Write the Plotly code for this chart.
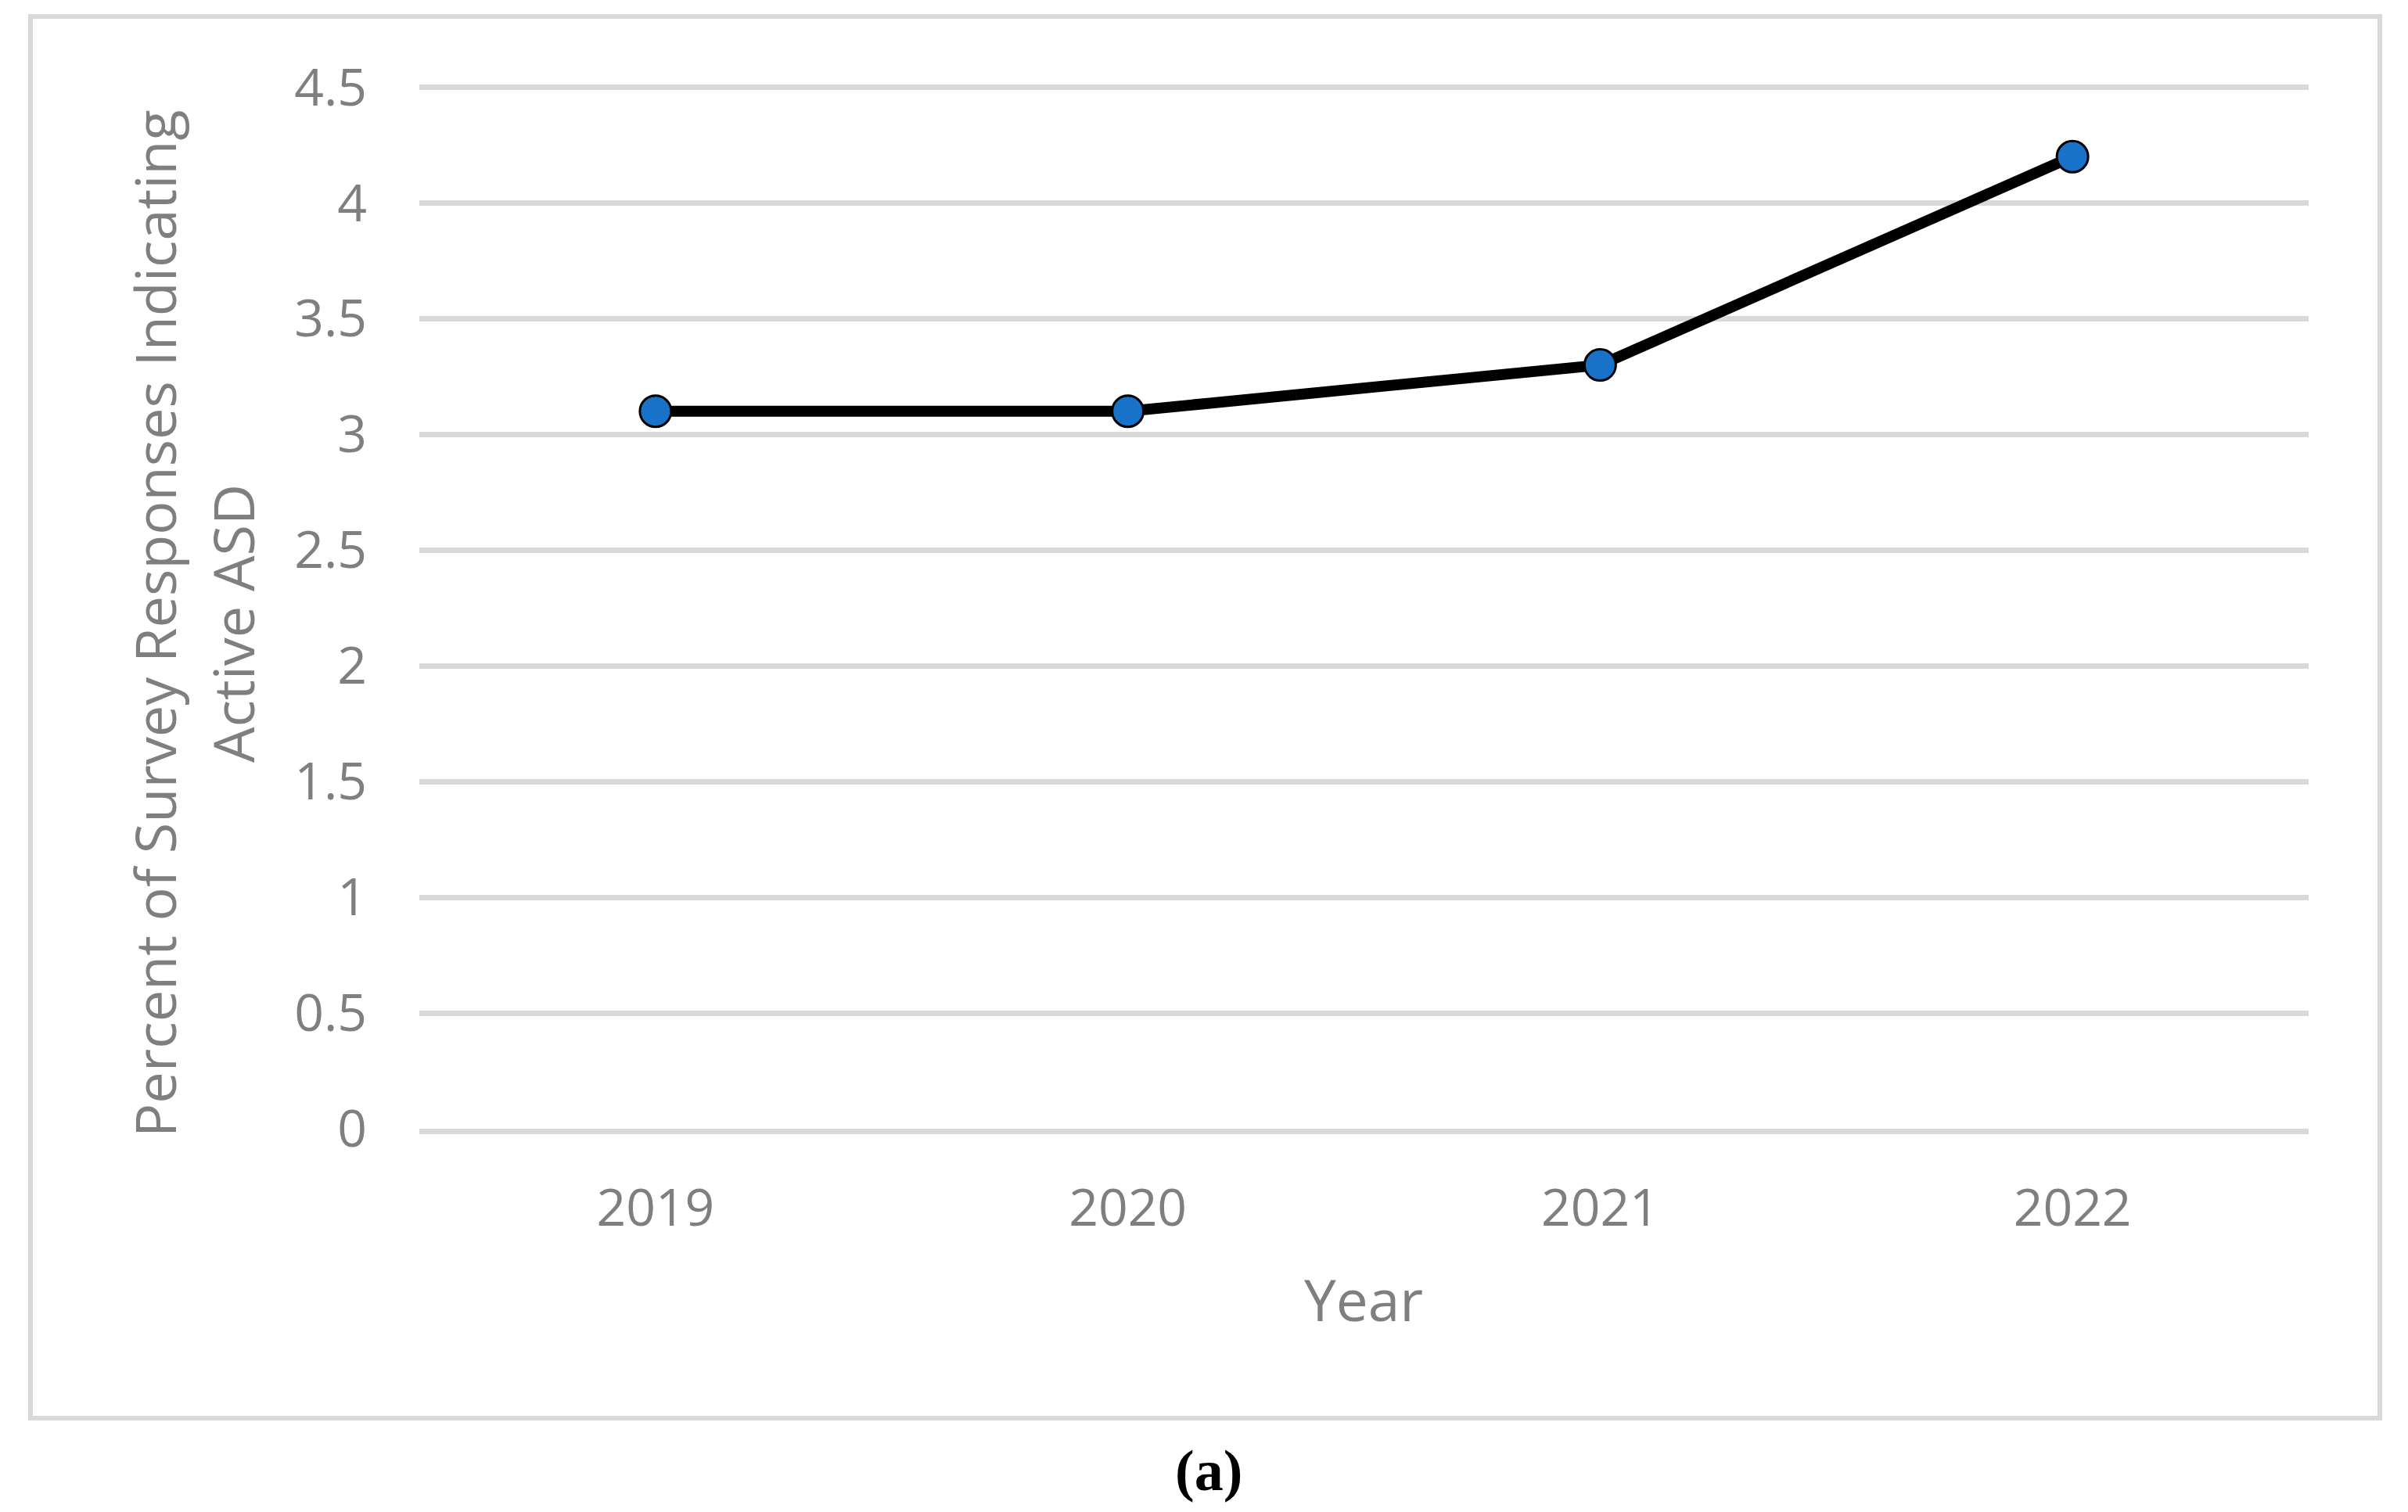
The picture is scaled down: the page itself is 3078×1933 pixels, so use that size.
import plotly.graph_objects as go

years = ["2019", "2020", "2021", "2022"]
percent_asd = [3.1, 3.1, 3.3, 4.2]
y_ticks = [0, 0.5, 1, 1.5, 2, 2.5, 3, 3.5, 4, 4.5]
y_tick_labels = ["0", "0.5", "1", "1.5", "2", "2.5", "3", "3.5", "4", "4.5"]

W, H = 3078, 1933
OFF = 8  # page offset of the figure inside the html body
L, R, T, B = 528, 135, 102, 498
PW, PH = W - L - R, H - T - B

def px(x):
    return (x - OFF - L) / PW

def py(y):
    return (H - B - (y - OFF)) / PH

GRAY = "#7f7f7f"
GRID = "#d9d9d9"
FONT = "Open Sans"

fig = go.Figure()
fig.add_trace(go.Scatter(
    x=years, y=percent_asd, mode="lines+markers",
    line=dict(color="black", width=14),
    marker=dict(size=40, color="#1872C8", line=dict(color="black", width=3)),
    showlegend=False, hoverinfo="x+y",
))

fig.update_layout(
    width=W, height=H,
    margin=dict(l=L, r=R, t=T, b=B),
    paper_bgcolor="white", plot_bgcolor="white",
    font=dict(family=FONT, color=GRAY),
    xaxis=dict(
        type="category", range=[-0.5, 3.5],
        showgrid=False, zeroline=False,
        showline=True, linecolor=GRID, linewidth=7,
        ticks="", tickfont=dict(size=66, color=GRAY, family=FONT),
        ticklabelstandoff=38,
    ),
    yaxis=dict(
        range=[0, 4.505], tickmode="array", tickvals=y_ticks, ticktext=y_tick_labels,
        showgrid=True, gridcolor=GRID, gridwidth=7,
        zeroline=False, showline=False,
        ticks="", tickfont=dict(size=66, color=GRAY, family=FONT),
        ticklabelstandoff=66,
    ),
    shapes=[dict(
        type="rect", xref="paper", yref="paper",
        x0=px(39), x1=px(3042), y0=py(1813), y1=py(21),
        line=dict(color=GRID, width=6), fillcolor="rgba(0,0,0,0)", layer="below",
    )],
    annotations=[
        dict(text="Percent of Survey Responses Indicating",
             xref="paper", yref="paper", x=px(197), y=py(797),
             xanchor="center", yanchor="middle", textangle=-90, showarrow=False,
             font=dict(size=72, color=GRAY, family=FONT)),
        dict(text="Active ASD",
             xref="paper", yref="paper", x=px(297), y=py(797),
             xanchor="center", yanchor="middle", textangle=-90, showarrow=False,
             font=dict(size=72, color=GRAY, family=FONT)),
        dict(text="Year", xref="paper", yref="paper", x=px(1743), y=py(1660),
             xanchor="center", yanchor="middle", showarrow=False,
             font=dict(size=73, color=GRAY, family=FONT)),
        dict(text="<b>(a)</b>", xref="paper", yref="paper", x=px(1545), y=py(1880),
             xanchor="center", yanchor="middle", showarrow=False,
             font=dict(size=74, color="black", family="Liberation Serif")),
    ],
)

fig.write_html("out.html")
